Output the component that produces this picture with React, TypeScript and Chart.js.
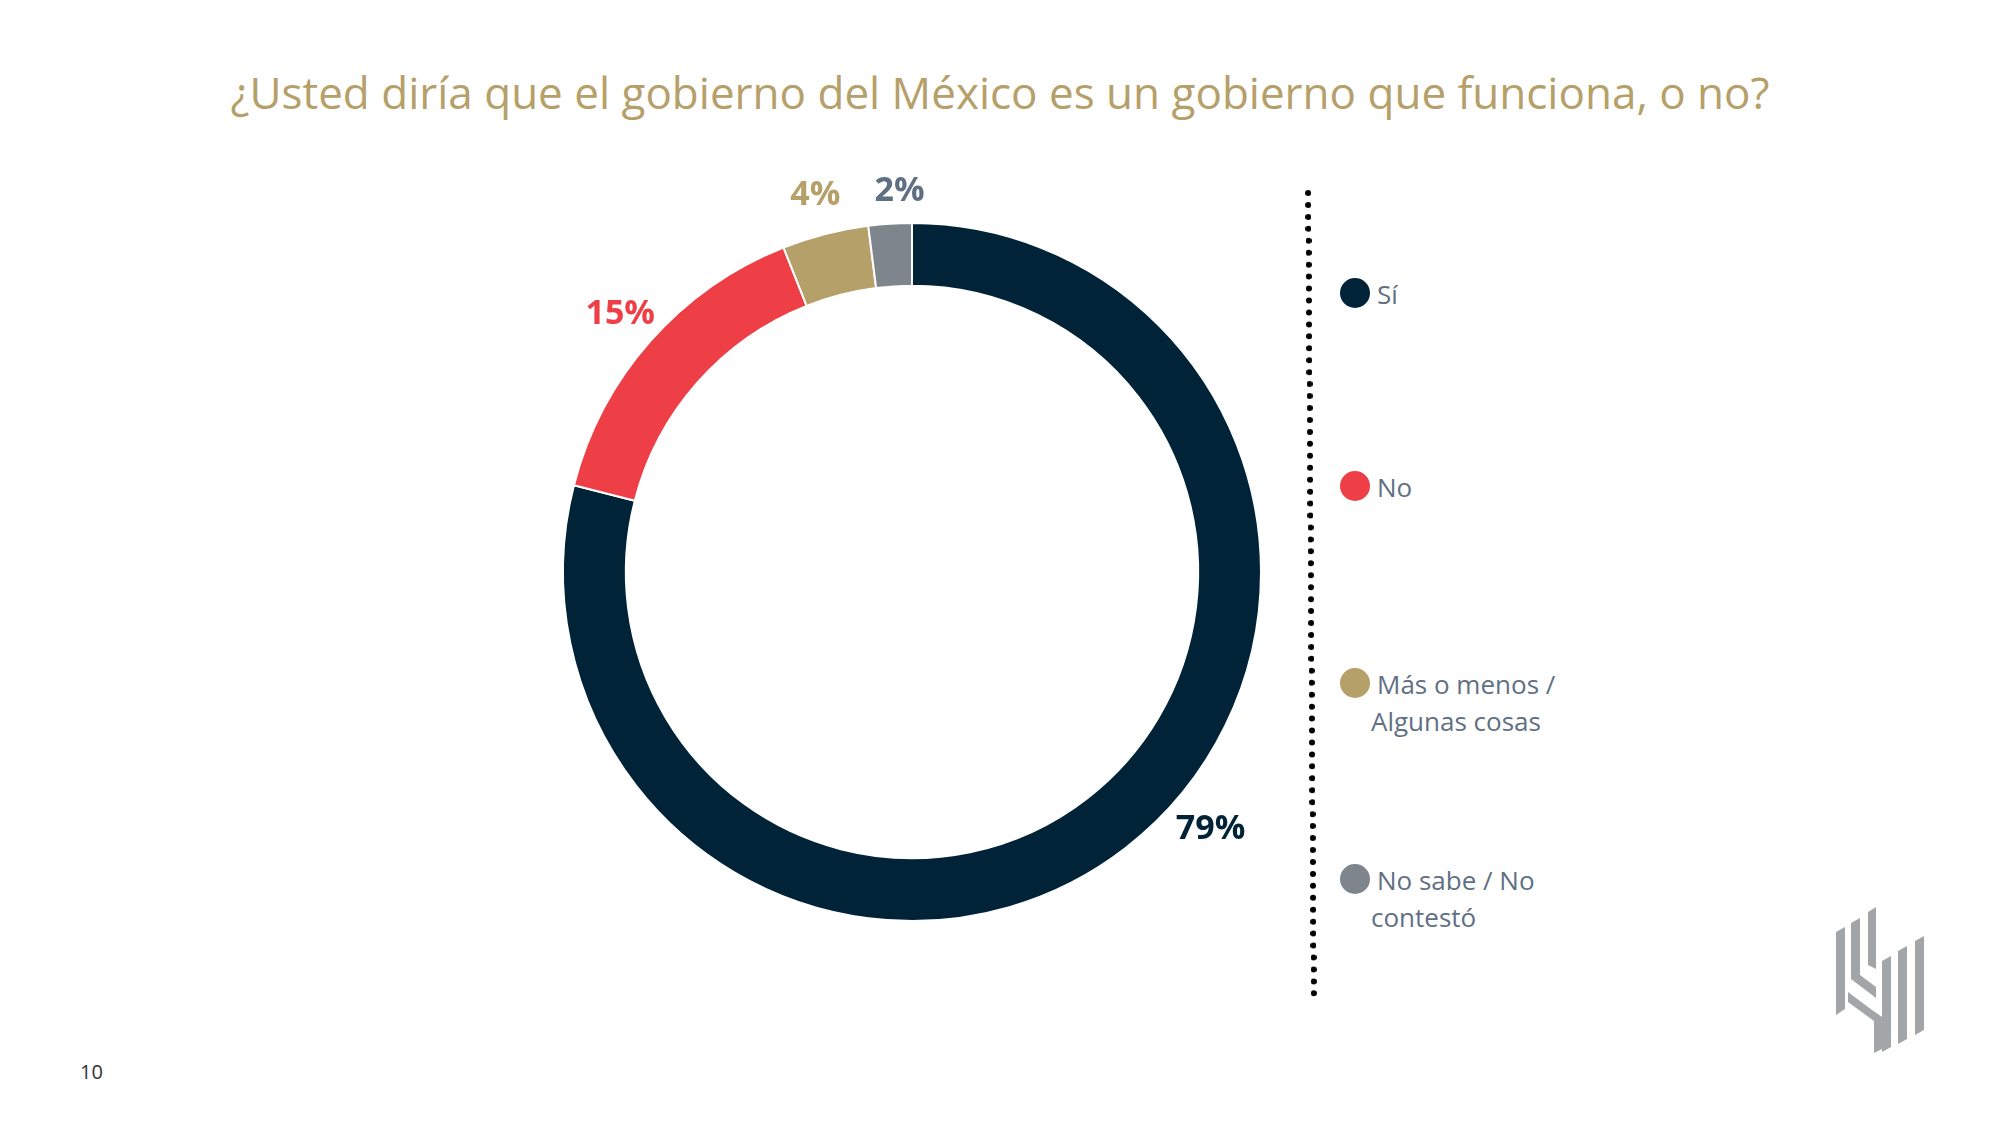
import { useEffect, useRef } from 'react';
import { Chart, registerables } from 'chart.js';
Chart.register(...registerables);

const categories = ['Sí', 'No', 'Más o menos / Algunas cosas', 'No sabe / No contestó'];
const legendLines = [['Sí'], ['No'], ['Más o menos /', 'Algunas cosas'], ['No sabe / No', 'contestó']];
const values = [79, 15, 4, 2];
const colors = ['#012338', '#EE3E46', '#B6A06A', '#7E858D'];
const labelColors = ['#012338', '#EE3E46', '#B6A06A', '#5F7084'];

const FONT = '"Open Sans", "Liberation Sans", sans-serif';

const outLabels = {
  id: 'outLabels',
  afterDraw(chart: any) {
    const ctx = chart.ctx;
    const meta = chart.getDatasetMeta(0);
    ctx.save();
    ctx.font = `bold 34px ${FONT}`;
    ctx.textAlign = 'center';
    ctx.textBaseline = 'middle';
    meta.data.forEach((arc: any, i: number) => {
      const mid = (arc.startAngle + arc.endAngle) / 2;
      let r = arc.outerRadius + 40;
      let a = mid;
      if (i === 0) { a = mid - 0.2; r = arc.outerRadius + 45; }
      if (i === 3) { a = mid + 0.03; r = arc.outerRadius + 32; }
      ctx.fillStyle = labelColors[i];
      ctx.fillText(values[i] + '%', arc.x + Math.cos(a) * r, arc.y + Math.sin(a) * r);
    });
    ctx.restore();
  },
};

export default function App() {
  const ref = useRef<HTMLCanvasElement>(null);

  useEffect(() => {
    const chart = new Chart(ref.current!, {
      type: 'doughnut',
      data: {
        labels: categories,
        datasets: [{
          data: values,
          backgroundColor: colors,
          borderColor: '#ffffff',
          borderWidth: 2,
        }],
      },
      options: {
        animation: false,
        responsive: true,
        maintainAspectRatio: false,
        cutout: '82%',
        layout: { padding: 50 },
        plugins: { legend: { display: false }, tooltip: { enabled: false } },
      },
      plugins: [outLabels],
    });
    return () => { chart.destroy(); };
  }, []);

  const legendY = [295, 488, 685, 881];

  return (
    <div style={{ position: 'relative', width: 2000, height: 1125, margin: -8, background: '#fff', fontFamily: FONT, overflow: 'hidden' }}>
      <div style={{ position: 'absolute', top: 62, left: 0, width: 2000, textAlign: 'center', fontSize: 44, color: '#B6A06A' }}>
        ¿Usted diría que el gobierno del México es un gobierno que funciona, o no?
      </div>
      <div style={{ position: 'absolute', left: 512, top: 172, width: 800, height: 800 }}>
        <canvas ref={ref} />
      </div>
      <div style={{ position: 'absolute', left: 1308, top: 190, height: 807, borderLeft: '6px dotted #000', transform: 'rotate(-0.4deg)' }} />
      {legendLines.map((lines, i) => (
        <div key={i} style={{ position: 'absolute', left: 1340, top: legendY[i] - 19 }}>
          <div style={{ position: 'absolute', left: 0, top: 2, width: 30, height: 30, borderRadius: 15, background: colors[i] }} />
          <div style={{ position: 'absolute', left: 37, top: 0, fontSize: 26, lineHeight: '37px', color: '#5F7084', whiteSpace: 'nowrap' }}>
            {lines.map((l, j) => (
              <div key={j} style={{ marginLeft: j > 0 ? -6 : 0 }}>{l}</div>
            ))}
          </div>
        </div>
      ))}
      <div style={{ position: 'absolute', left: 80, top: 1058, fontSize: 20, color: '#333' }}>10</div>
      <svg style={{ position: 'absolute', left: 1836, top: 907 }} width={100} height={150} viewBox="0 0 100 150">
        <g fill="#A3A6A8">
          <polygon points="0,25 9,20 9,102 0,108" />
          <polygon points="15,16 24,11 24,68 40,80 40,91 15,72" />
          <polygon points="32,5 40,0 40,62 32,58" />
          <polygon points="12,85 36,103 46,110 46,142 38,146 38,114 12,95" />
          <polygon points="46,54 55,49 55,140 46,145" />
          <polygon points="62,44 71,39 71,132 62,137" />
          <polygon points="79,34 88,29 88,123 79,128" />
        </g>
      </svg>
    </div>
  );
}
